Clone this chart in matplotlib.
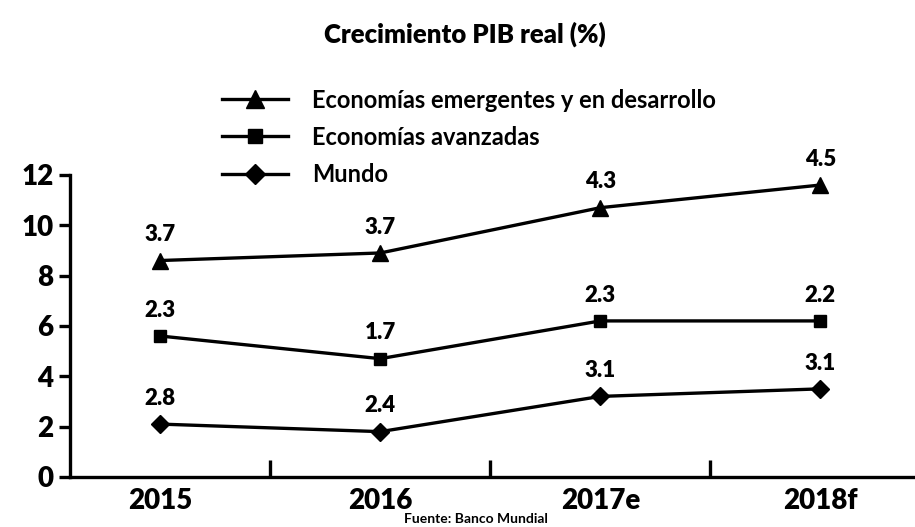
import matplotlib
matplotlib.use("Agg")
import matplotlib.pyplot as plt
from matplotlib.lines import Line2D

categories = ["2015", "2016", "2017e", "2018f"]
series_names = ["Economías emergentes y en desarrollo", "Economías avanzadas", "Mundo"]
# plotted positions
emergentes_pos = [8.6, 8.9, 10.7, 11.6]
avanzadas_pos = [5.6, 4.7, 6.2, 6.2]
mundo_pos = [2.1, 1.8, 3.2, 3.5]
# annotated values
emergentes_lbl = ["3.7", "3.7", "4.3", "4.5"]
avanzadas_lbl = ["2.3", "1.7", "2.3", "2.2"]
mundo_lbl = ["2.8", "2.4", "3.1", "3.1"]
yticks = [0, 2, 4, 6, 8, 10, 12]

FONT = ["Lato", "DejaVu Sans"]
plt.rcParams["font.family"] = FONT

fig = plt.figure(figsize=(9.15, 5.27), dpi=100)
ax = fig.add_axes([0.0765, 0.095, 0.9235, 0.573])

x = list(range(len(categories)))
lw = 2.4
series = [
    (emergentes_pos, emergentes_lbl, "^", 12),
    (avanzadas_pos, avanzadas_lbl, "s", 9),
    (mundo_pos, mundo_lbl, "D", 9),
]
handles = []
for (ys, lbls, mk, ms), name in zip(series, series_names):
    ax.plot(x, ys, color="black", lw=lw, marker=mk, markersize=ms, clip_on=False)
    for xi, yi, t in zip(x, ys, lbls):
        ax.annotate(t, (xi, yi), xytext=(0, 11), textcoords="offset points",
                    ha="center", va="bottom", fontsize=16, fontweight="heavy")
    handles.append(Line2D([], [], color="black", lw=lw, marker=mk, markersize=ms + 1))

ax.set_xlim(-0.41, 3.43)
ax.set_ylim(0, 12)
ax.set_yticks(yticks)
ax.set_yticklabels([str(v) for v in yticks], fontsize=20, fontweight="heavy")
ax.set_xticks(x)
ax.set_xticklabels(categories, fontsize=20, fontweight="heavy")
ax.tick_params(axis="x", which="major", length=0, pad=8)
ax.set_xticks([0.5, 1.5, 2.5], minor=True)
ax.tick_params(axis="x", which="minor", direction="in", length=12, width=lw)
ax.tick_params(axis="y", direction="out", length=8, width=lw, pad=4)
for s in ["top", "right"]:
    ax.spines[s].set_visible(False)
for s in ["left", "bottom"]:
    ax.spines[s].set_linewidth(lw)

fig.text(0.508, 0.935, "Crecimiento PIB real (%)", ha="center", va="center",
         fontsize=18.5, fontweight="heavy")

fig.legend(handles, series_names, loc="upper left", bbox_to_anchor=(0.243, 0.832),
           frameon=False, prop={"size": 17, "weight": "bold"}, handlelength=2.8,
           handletextpad=1.0, labelspacing=0.6, borderaxespad=0, borderpad=0)

fig.text(0.52, 0.015, "Fuente: Banco Mundial", ha="center", va="center",
         fontsize=10, fontweight="bold")

fig.savefig("out.png", dpi=100)
